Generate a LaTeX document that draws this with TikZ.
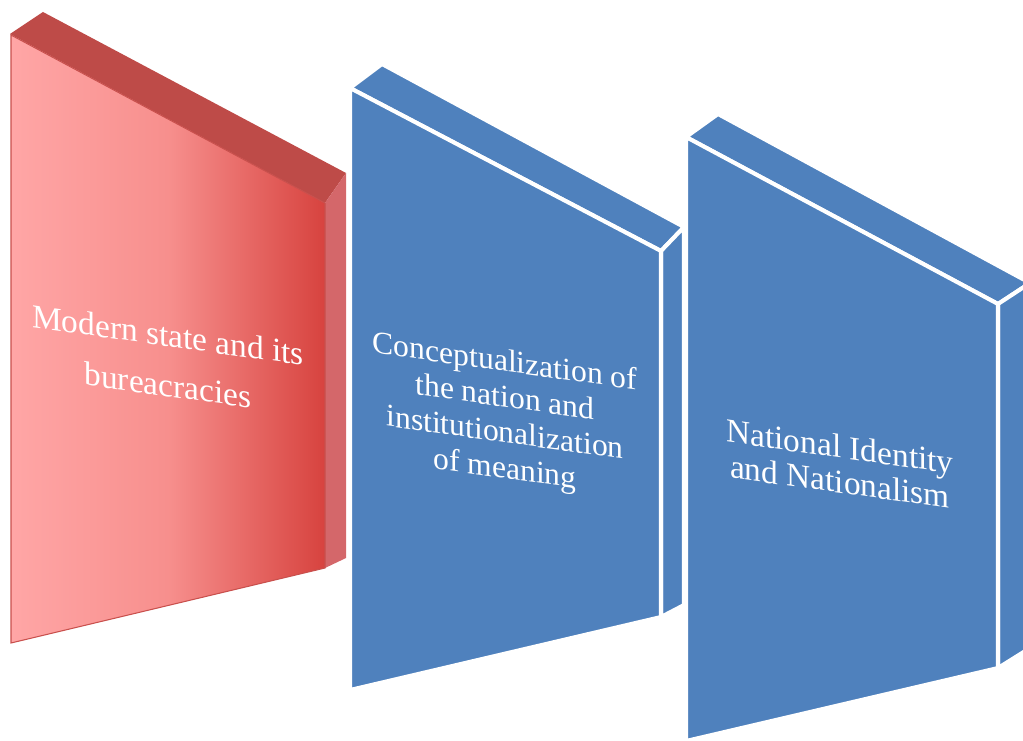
\documentclass[tikz,border=0pt]{standalone}
\usepackage{fontspec}
\setmainfont{Liberation Serif}
\definecolor{redtop}{HTML}{BE4B48}
\definecolor{redside}{HTML}{D4676A}
\definecolor{redleft}{HTML}{FFA6A6}
\definecolor{redmid}{HTML}{F78F8D}
\definecolor{redright}{HTML}{D7433F}
\definecolor{rededge}{HTML}{C9504D}
\definecolor{bluefill}{HTML}{4F81BD}
\begin{document}
\begin{tikzpicture}[x=0.02cm,y=-0.02cm,
  blue face/.style={fill=bluefill,draw=white,line width=2.3pt,line join=round},
  panel text/.style={text=white,align=center,transform shape,yslant=-0.14}]

  \useasboundingbox (0,0) rectangle (1023,740);
  \clip (0,0) rectangle (1023,740);

  \fill[redtop] (10,34) -- (43,12) -- (346,173) -- (325,203) -- cycle;
  \fill[redside] (325,203) -- (346,173) -- (346,558) -- (325,568) -- cycle;
  \shadedraw[left color=redleft,right color=redright,middle color=redmid,
    draw=rededge,line width=0.6pt] (11,35) -- (325,203) -- (325,568) -- (11,643) -- cycle;

  \filldraw[blue face] (350,88) -- (382,64) -- (684,227) -- (661,251) -- cycle;
  \filldraw[blue face] (661,251) -- (684,227) -- (684,605) -- (661,617) -- cycle;
  \filldraw[blue face] (350,88) -- (661,251) -- (661,617) -- (350,690) -- cycle;

  \filldraw[blue face] (686,137) -- (718,114) -- (1030,283) -- (998,304) -- cycle;
  \filldraw[blue face] (998,304) -- (1030,283) -- (1030,648) -- (998,668) -- cycle;
  \filldraw[blue face] (686,137) -- (998,304) -- (998,668) -- (686,741) -- cycle;

  \node[panel text,font=\fontsize{19}{28.5}\selectfont] (0) at (168,360)
    {Modern state and its\\bureacracies};
  \node[panel text,font=\fontsize{18}{20.3}\selectfont] (1) at (505,417)
    {Conceptualization of\\the nation and\\institutionalization\\of meaning};
  \node[panel text,font=\fontsize{19}{20}\selectfont] (2) at (840,464)
    {National Identity\\and Nationalism};
\end{tikzpicture}
\end{document}
